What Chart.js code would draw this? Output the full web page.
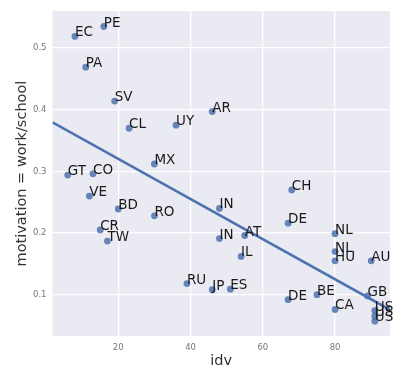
<!DOCTYPE html>
<html>
<head>
<meta charset="utf-8">
<script src="https://cdn.jsdelivr.net/npm/chart.js@4/dist/chart.umd.min.js"></script>
<style>
html,body{margin:0;padding:0;background:#fff;}
#c{display:block;}
</style>
</head>
<body>
<canvas id="c" width="394" height="368"></canvas>
<script>
// Data
const countries = ['PE','EC','PA','SV','CL','UY','AR','MX','GT','CO','VE','BD','RO','CR','TW','RU','CH','IN','DE','IN','AT','IL','NL','NL','HU','AU','JP','ES','DE','BE','CA','GB','US','US','US'];
const idv = [16,8,11,19,23,36,46,30,6,13,12,20,30,15,17,39,68,48,67,48,55,54,80,80,80,90,46,51,67,75,80,89,91,91,91];
const motivation = [0.535,0.519,0.469,0.414,0.370,0.375,0.397,0.312,0.294,0.296,0.260,0.239,0.228,0.205,0.187,0.118,0.270,0.240,0.216,0.191,0.196,0.162,0.199,0.170,0.155,0.155,0.108,0.109,0.092,0.100,0.076,0.098,0.074,0.065,0.057];
// Regression line endpoints
const fitX = [1.8, 95.2];
const fitY = [0.3794, 0.0755];
const xTicks = [20, 40, 60, 80];
const yTicks = [0.1, 0.2, 0.3, 0.4, 0.5];

const scatterData = idv.map((v, i) => ({x: v, y: motivation[i]}));
const lineData = fitX.map((v, i) => ({x: v, y: fitY[i]}));

const bgPlugin = {
  id: 'bg',
  beforeDraw(chart) {
    const a = chart.chartArea, ctx = chart.ctx;
    ctx.save();
    ctx.fillStyle = '#EAEAF2';
    ctx.fillRect(a.left, a.top, a.right - a.left, a.bottom - a.top);
    ctx.restore();
  }
};

const textPlugin = {
  id: 'texts',
  afterDatasetsDraw(chart) {
    const ctx = chart.ctx, xs = chart.scales.x, ys = chart.scales.y, a = chart.chartArea;
    ctx.save();
    ctx.fillStyle = '#1a1a1a';
    ctx.font = '13.5px "DejaVu Sans"';
    ctx.textAlign = 'left';
    ctx.textBaseline = 'alphabetic';
    countries.forEach((c, i) => {
      ctx.fillText(c, xs.getPixelForValue(idv[i]), ys.getPixelForValue(motivation[i]));
    });
    ctx.fillStyle = '#333333';
    ctx.font = '14.5px "DejaVu Sans"';
    ctx.textAlign = 'center';
    ctx.textBaseline = 'middle';
    ctx.fillText('idv', (a.left + a.right) / 2, 361.5);
    ctx.translate(22, (a.top + a.bottom) / 2);
    ctx.rotate(-Math.PI / 2);
    ctx.fillText('motivation = work/school', 0, 0);
    ctx.restore();
  }
};

new Chart(document.getElementById('c'), {
  type: 'scatter',
  data: {
    datasets: [
      {
        type: 'line',
        data: lineData,
        borderColor: '#4C72B0',
        borderWidth: 2.5,
        pointRadius: 0,
        fill: false,
        order: 0
      },
      {
        data: scatterData,
        backgroundColor: 'rgba(76,114,176,0.85)',
        borderColor: 'rgba(76,114,176,0.85)',
        borderWidth: 0,
        pointRadius: 3.4,
        order: 1
      }
    ]
  },
  options: {
    responsive: false,
    animation: false,
    devicePixelRatio: 1,
    layout: {padding: {top: 5, left: 0, right: 0, bottom: 0}},
    plugins: {legend: {display: false}, tooltip: {enabled: false}},
    scales: {
      x: {
        type: 'linear',
        min: 1.8,
        max: 95.2,
        afterBuildTicks(s) { s.ticks = xTicks.map(v => ({value: v})); },
        afterFit(s) { s.height = 32; },
        grid: {color: '#ffffff', lineWidth: 1.3, drawTicks: false},
        border: {display: false},
        ticks: {padding: 7, color: '#777777', font: {family: 'DejaVu Sans', size: 8.5}, maxRotation: 0}
      },
      y: {
        type: 'linear',
        min: 0.033,
        max: 0.560,
        afterBuildTicks(s) { s.ticks = yTicks.map(v => ({value: v})); },
        afterFit(s) { s.width = 52.5; },
        grid: {color: '#ffffff', lineWidth: 1.3, drawTicks: false},
        border: {display: false},
        ticks: {padding: 6, color: '#777777', font: {family: 'DejaVu Sans', size: 8.5}, callback: v => v.toFixed(1)}
      }
    }
  },
  plugins: [bgPlugin, textPlugin]
});
</script>
</body>
</html>
